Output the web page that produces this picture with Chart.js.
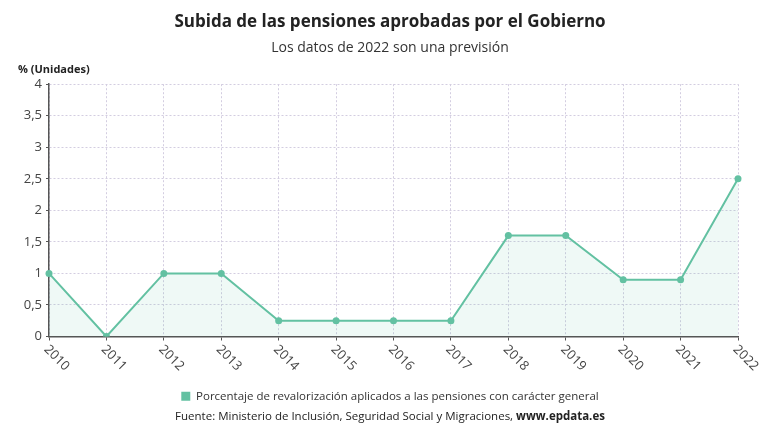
<!DOCTYPE html>
<html>
<head>
<meta charset="utf-8">
<script src="https://cdn.jsdelivr.net/npm/chart.js@4.4.1/dist/chart.umd.min.js"></script>
<style>
  html, body { margin: 0; padding: 0; background: #fff; }
  #wrap { width: 780px; height: 440px; position: relative; }
</style>
</head>
<body>
<div id="wrap"><canvas id="pensionesChart" width="780" height="440"></canvas></div>
<script>
// datos
var years = ['2010', '2011', '2012', '2013', '2014', '2015', '2016', '2017', '2018', '2019', '2020', '2021', '2022'];
var revalorizacion = [1, 0, 1, 1, 0.25, 0.25, 0.25, 0.25, 1.6, 1.6, 0.9, 0.9, 2.5];
var seriesLabel = 'Porcentaje de revalorización aplicados a las pensiones con carácter general';
var yTicks = [0, 0.5, 1, 1.5, 2, 2.5, 3, 3.5, 4];

var lineColor = '#63c1a2';
var fontFamily = '"Open Sans", "Noto Sans", sans-serif';

function comma(v) {
    return v.toString().replace('.', ',');
}

// texts drawn around the chart (unit, axis labels, source)
var extraText = {
    id: 'extraText',
    afterDraw: function(chart) {
        var c = chart.ctx;
        var area = chart.chartArea;
        var xs = chart.scales.x;
        var ys = chart.scales.y;
        c.save();
        c.fillStyle = '#222';
        c.font = 'bold 11px ' + fontFamily;
        c.textAlign = 'left';
        c.textBaseline = 'middle';
        c.fillText('% (Unidades)', 18, 70);

        // y labels
        c.font = '13px ' + fontFamily;
        c.fillStyle = '#444';
        c.textAlign = 'right';
        yTicks.forEach(function(v) {
            c.fillText(comma(v), area.left - 7, ys.getPixelForValue(v));
        });

        // x labels rotated downwards
        years.forEach(function(y, i) {
            var px = xs.getPixelForValue(i);
            c.save();
            c.translate(px - 3, area.bottom + 11);
            c.rotate(Math.PI / 4);
            c.textAlign = 'left';
            c.textBaseline = 'middle';
            c.fillText(y, 0, 0);
            c.restore();
        });

        // source
        var part1 = 'Fuente: Ministerio de Inclusión, Seguridad Social y Migraciones, ';
        var part2 = 'www.epdata.es';
        c.font = '11.5px ' + fontFamily;
        var w1 = c.measureText(part1).width;
        c.font = 'bold 11.5px ' + fontFamily;
        var w2 = c.measureText(part2).width;
        var x0 = 390 - (w1 + w2) / 2;
        c.fillStyle = '#222';
        c.textAlign = 'left';
        c.font = '11.5px ' + fontFamily;
        c.fillText(part1, x0, 417);
        c.font = 'bold 11.5px ' + fontFamily;
        c.fillText(part2, x0 + w1, 417);
        c.restore();
    }
};

var ctx = document.getElementById('pensionesChart');
var pensionesChart = new Chart(ctx, {
    type: 'line',
    data: {
        labels: years,
        datasets: [{
            label: seriesLabel,
            data: revalorizacion,
            borderColor: lineColor,
            backgroundColor: 'rgba(99, 193, 162, 0.10)',
            fill: 'origin',
            borderWidth: 2,
            tension: 0,
            pointRadius: 3.5,
            pointBackgroundColor: lineColor,
            pointBorderColor: lineColor,
            pointBorderWidth: 0
        }]
    },
    options: {
        responsive: false,
        animation: false,
        layout: {
            padding: { left: 42, right: 42, top: 0, bottom: 28 }
        },
        plugins: {
            title: {
                display: true,
                text: 'Subida de las pensiones aprobadas por el Gobierno',
                color: '#222',
                font: { family: fontFamily, size: 17, weight: 'bold' },
                padding: { top: 12, bottom: 6 }
            },
            subtitle: {
                display: true,
                text: 'Los datos de 2022 son una previsión',
                color: '#333',
                font: { family: fontFamily, size: 14 },
                padding: { top: 1, bottom: 28 }
            },
            legend: {
                position: 'bottom',
                labels: {
                    color: '#333',
                    font: { family: fontFamily, size: 11.5 },
                    boxWidth: 9,
                    boxHeight: 9,
                    padding: 6,
                    generateLabels: function(chart) {
                        return chart.data.datasets.map(function(ds, i) {
                            return {
                                text: ds.label,
                                fillStyle: lineColor,
                                strokeStyle: lineColor,
                                lineWidth: 0,
                                fontColor: '#333',
                                datasetIndex: i
                            };
                        });
                    }
                }
            },
            tooltip: { enabled: false }
        },
        scales: {
            x: {
                type: 'category',
                offset: false,
                ticks: { display: false },
                grid: {
                    color: '#d3cde0',
                    drawTicks: true,
                    tickLength: 4,
                    tickColor: '#555'
                },
                border: {
                    display: true,
                    color: '#555',
                    width: 1.5,
                    dash: [2, 2]
                },
                afterFit: function(s) { s.height = 48; }
            },
            y: {
                min: 0,
                max: 4,
                afterBuildTicks: function(s) {
                    s.ticks = yTicks.map(function(v) { return { value: v }; });
                },
                ticks: { display: false },
                grid: {
                    color: '#d3cde0',
                    tickLength: 3,
                    tickColor: '#555'
                },
                border: {
                    display: true,
                    color: '#555',
                    width: 1.5,
                    dash: [2, 2]
                },
                afterFit: function(s) { s.width = 7; }
            }
        }
    },
    plugins: [extraText]
});
</script>
</body>
</html>
